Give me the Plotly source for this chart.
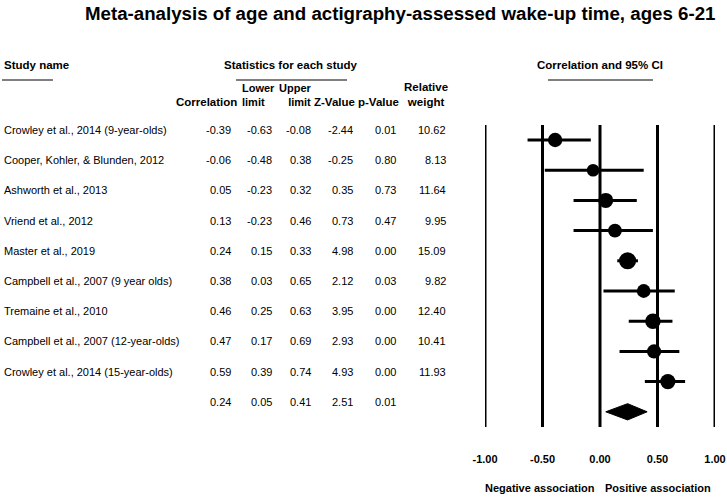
import plotly.graph_objects as go
import math

W, H = 727, 497

# Study data
studies = [
    "Crowley et al., 2014 (9-year-olds)",
    "Cooper, Kohler, & Blunden, 2012",
    "Ashworth et al., 2013",
    "Vriend et al., 2012",
    "Master et al., 2019",
    "Campbell et al., 2007 (9 year olds)",
    "Tremaine et al., 2010",
    "Campbell et al., 2007 (12-year-olds)",
    "Crowley et al., 2014 (15-year-olds)",
]
correlation = [-0.39, -0.06, 0.05, 0.13, 0.24, 0.38, 0.46, 0.47, 0.59]
lower_limit = [-0.63, -0.48, -0.23, -0.23, 0.15, 0.03, 0.25, 0.17, 0.39]
upper_limit = [-0.08, 0.38, 0.32, 0.46, 0.33, 0.65, 0.63, 0.69, 0.74]
z_value = [-2.44, -0.25, 0.35, 0.73, 4.98, 2.12, 3.95, 2.93, 4.93]
p_value = [0.01, 0.80, 0.73, 0.47, 0.00, 0.03, 0.00, 0.00, 0.00]
rel_weight = [10.62, 8.13, 11.64, 9.95, 15.09, 9.82, 12.40, 10.41, 11.93]

# Pooled estimate
summary_corr = 0.24
summary_lower = 0.05
summary_upper = 0.41
summary_z = 2.51
summary_p = 0.01

ticks = [-1.0, -0.5, 0.0, 0.5, 1.0]

FONT = "Liberation Sans"
ROW_PX = 30.2
FIRST_PX = 140
PLOT_BOTTOM = 451


def px(x):
    return x / W


def py(y):
    return 1 - y / H


n = len(studies)
rows = list(range(n))
summary_row = n

fig = go.Figure()

# Confidence interval lines
ci_x, ci_y = [], []
for i in rows:
    ci_x += [lower_limit[i], upper_limit[i], None]
    ci_y += [i, i, None]
fig.add_trace(go.Scatter(x=ci_x, y=ci_y, mode="lines",
                         line=dict(color="black", width=3),
                         hoverinfo="skip", showlegend=False))

# Point estimates, area proportional to weight
fig.add_trace(go.Scatter(
    x=correlation, y=rows, mode="markers",
    marker=dict(color="black", size=[4.4 * math.sqrt(w) for w in rel_weight],
                opacity=1, line=dict(width=0)),
    text=studies, showlegend=False))

# Summary diamond
dh = 0.27
fig.add_trace(go.Scatter(
    x=[summary_lower, summary_corr, summary_upper, summary_corr, summary_lower],
    y=[summary_row, summary_row - dh, summary_row, summary_row + dh, summary_row],
    mode="lines", fill="toself", fillcolor="black",
    line=dict(color="black", width=1), showlegend=False))

# Vertical reference lines
for t in ticks:
    fig.add_shape(type="line", xref="x", yref="y", x0=t, x1=t,
                  y0=-0.5, y1=summary_row + 0.5,
                  line=dict(color="black", width=3), layer="below")

annotations = []


def add_text(text, x, y, anchor="left", yref="paper", xref="paper", size=11, bold=False, align="left", yanchor="middle"):
    annotations.append(dict(
        text=f"<b>{text}</b>" if bold else text,
        x=x, y=y, xref=xref, yref=yref, xanchor=anchor, yanchor=yanchor,
        showarrow=False, align=align,
        font=dict(family=FONT, size=size, color="black")))


# Title
add_text("Meta-analysis of age and actigraphy-assessed wake-up time, ages 6-21",
         px(400), py(14), anchor="center", size=18.7, bold=True)

# Group headers
add_text("Study name", px(2), py(65), bold=True, size=11.5)
add_text("Statistics for each study", px(291), py(65), anchor="center", bold=True, size=11.5)
add_text("Correlation and 95% CI", px(600), py(65), anchor="center", bold=True, size=11.5)

# Column headers (two lines, bottom line at ~103 px)
hb = 110
add_text("Correlation", px(239), py(hb), anchor="right", bold=True, yanchor="bottom", size=11.5)
add_text("Lower<br>limit", px(240), py(hb), anchor="left", bold=True, yanchor="bottom", size=11)
add_text("Upper<br>limit", px(314), py(hb), anchor="right", bold=True, align="right", yanchor="bottom", size=11)
add_text("Z-Value", px(357), py(hb), anchor="right", bold=True, yanchor="bottom", size=11.5)
add_text("p-Value", px(401), py(hb), anchor="right", bold=True, yanchor="bottom", size=11.5)
add_text("Relative<br>weight", px(426), py(hb), anchor="center", bold=True, align="center", yanchor="bottom", size=11.5)

# Table rows
col_right = [233, 274, 313, 355, 398, 448]
text_off = -0.33
for i in rows:
    add_text(studies[i], px(2), i + text_off, yref="y")
    vals = [correlation[i], lower_limit[i], upper_limit[i], z_value[i], p_value[i], rel_weight[i]]
    for xr, v in zip(col_right, vals):
        add_text(f"{v:.2f}", px(xr), i + text_off, anchor="right", yref="y")

for xr, v in zip(col_right, [summary_corr, summary_lower, summary_upper, summary_z, summary_p]):
    add_text(f"{v:.2f}", px(xr), summary_row + text_off, anchor="right", yref="y")

# Bottom labels
add_text("Negative association", -0.025, py(488), anchor="right", xref="x", bold=True)
add_text("Positive association", 0.025, py(488), anchor="left", xref="x", bold=True)

# Underlines
for x0, x1 in [(2, 53), (236, 347), (548, 653)]:
    fig.add_shape(type="line", xref="paper", yref="paper",
                  x0=px(x0), x1=px(x1), y0=py(80), y1=py(80),
                  line=dict(color="black", width=1))

y_top = -FIRST_PX / ROW_PX
y_bottom = (PLOT_BOTTOM - FIRST_PX) / ROW_PX

fig.update_layout(
    width=W, height=H,
    margin=dict(l=0, r=0, t=0, b=0, autoexpand=False),
    paper_bgcolor="white", plot_bgcolor="white",
    showlegend=False,
    annotations=annotations,
    xaxis=dict(domain=[px(485), px(715)], range=[-1, 1],
               tickvals=ticks, ticktext=[f"<b>{t:.2f}</b>" for t in ticks],
               showgrid=False, zeroline=False, showline=False, ticks="",
               tickfont=dict(family=FONT, size=11, color="black"),
               automargin=False, fixedrange=True),
    yaxis=dict(domain=[1 - PLOT_BOTTOM / H, 1], range=[y_bottom, y_top],
               showgrid=False, zeroline=False, showline=False,
               showticklabels=False, ticks="", automargin=False, fixedrange=True),
)

# page body has a default 8px margin; drop it so the figure sits at the corner
fig.write_html("out.html", config={"displayModeBar": False},
               post_script="document.body.style.margin='0';document.body.style.overflow='hidden';")
